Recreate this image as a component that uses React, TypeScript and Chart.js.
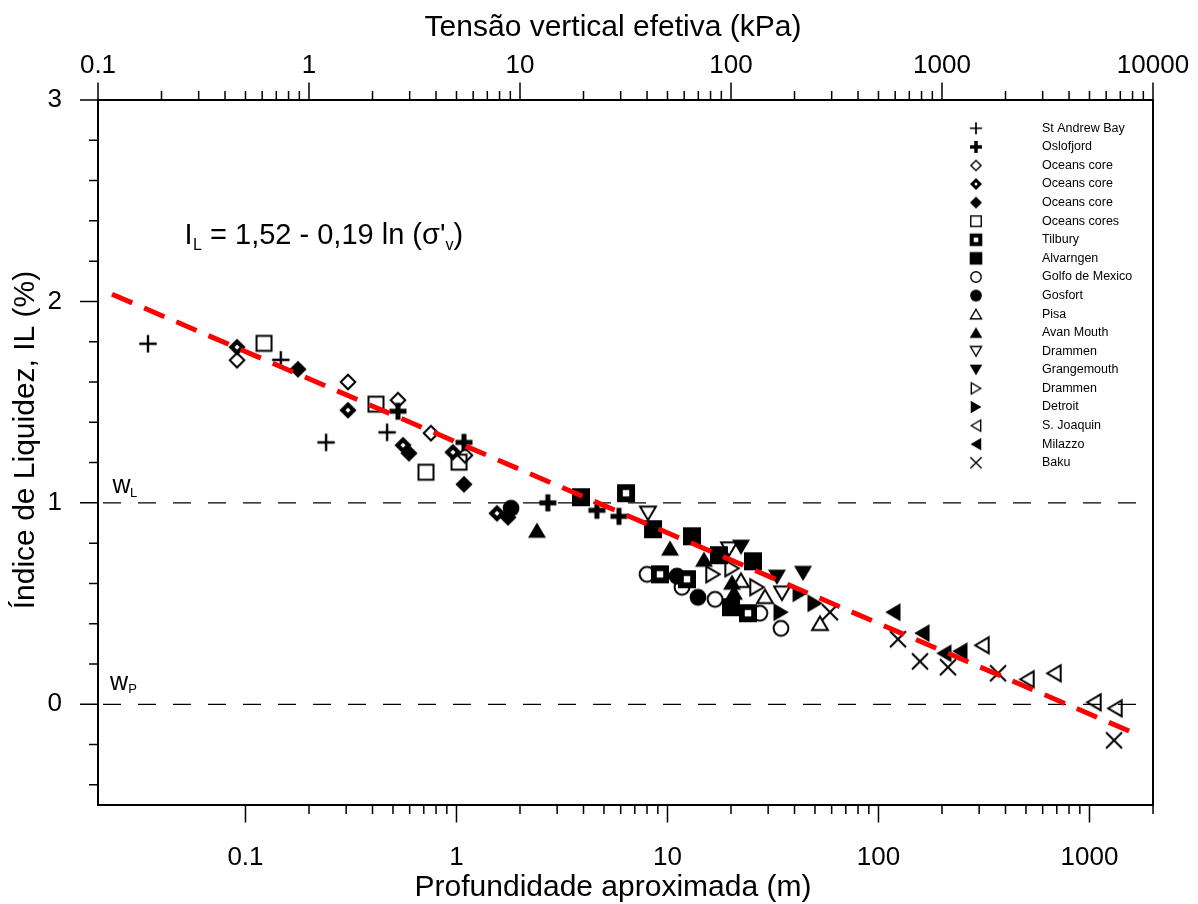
import React, { useEffect, useRef } from 'react';
import { Chart, registerables } from 'chart.js';

Chart.register(...registerables);

const FONT = '"Liberation Sans", Arial, Helvetica, sans-serif';

// ---------- axis ticks ----------
const depthMajorTicks = [0.1, 1, 10, 100, 1000];
const depthMinorTicks = [0.2, 0.3, 0.4, 0.5, 0.6, 0.7, 0.8, 0.9, 2, 3, 4, 5, 6, 7, 8, 9, 20, 30, 40, 50, 60, 70, 80, 90, 200, 300, 400, 500, 600, 700, 800, 900, 2000];
const stressMajorTicks = [0.1, 1, 10, 100, 1000, 10000];
const stressMinorTicks = [0.2, 0.3, 0.4, 0.5, 0.6, 0.7, 0.8, 0.9, 2, 3, 4, 5, 6, 7, 8, 9, 20, 30, 40, 50, 60, 70, 80, 90, 200, 300, 400, 500, 600, 700, 800, 900, 2000, 3000, 4000, 5000, 6000, 7000, 8000, 9000];
const ilMajorTicks = [0, 1, 2, 3];
const ilMinorTicks = [-0.4, -0.2, 0.2, 0.4, 0.6, 0.8, 1.2, 1.4, 1.6, 1.8, 2.2, 2.4, 2.6, 2.8];

// ---------- data (x = depth in m, y = liquidity index) ----------
const stAndrewX = [0.0345, 0.147, 0.241, 0.469];
const stAndrewY = [1.79, 1.71, 1.3, 1.35];
const oslofjordX = [0.528, 1.085, 2.71, 4.63, 5.89];
const oslofjordY = [1.455, 1.3, 1.0, 0.963, 0.933];
const oceansOpenX = [0.0912, 0.306, 0.528, 0.757, 1.097];
const oceansOpenY = [1.708, 1.6, 1.51, 1.346, 1.236];
const oceansDotX = [0.0912, 0.306, 0.558, 0.962, 1.556];
const oceansDotY = [1.773, 1.46, 1.286, 1.251, 0.948];
const oceansFilledX = [0.1773, 0.5955, 1.085, 1.754];
const oceansFilledY = [1.663, 1.246, 1.092, 0.928];
const oceansCoresX = [0.1224, 0.4154, 0.717, 1.028];
const oceansCoresY = [1.792, 1.49, 1.152, 1.202];
const tilburyX = [6.36, 9.21, 12.37, 24.07];
const tilburyY = [1.048, 0.645, 0.621, 0.452];
const alvarngenX = [3.89, 8.54, 13.06, 17.54, 25.42, 20.0];
const alvarngenY = [1.028, 0.869, 0.834, 0.74, 0.71, 0.482];
const golfoX = [8.0, 11.71, 16.8, 27.4, 34.5];
const golfoY = [0.645, 0.581, 0.521, 0.452, 0.377];
const gosfortX = [1.813, 11.09, 13.95];
const gosfortY = [0.973, 0.636, 0.531];
const pisaX = [22.3, 28.97, 52.8];
const pisaY = [0.616, 0.536, 0.402];
const avanX = [2.407, 10.28, 14.89, 20.22, 20.66];
const avanY = [0.864, 0.775, 0.72, 0.606, 0.556];
const drammenDownX = [8.08, 19.56, 34.88];
const drammenDownY = [0.948, 0.77, 0.551];
const grangemouthX = [22.3, 33.0, 43.9];
const grangemouthY = [0.78, 0.631, 0.65];
const drammenRightX = [16.43, 20.22, 26.56];
const drammenRightY = [0.645, 0.675, 0.581];
const detroitX = [34.5, 42.5, 50.0];
const detroitY = [0.457, 0.551, 0.501];
const sJoaquinX = [309.4, 505.5, 678.7, 1050, 1321];
const sJoaquinY = [0.293, 0.124, 0.154, 0.01, -0.02];
const milazzoX = [117.1, 160.8, 204.4, 243.4];
const milazzoY = [0.457, 0.353, 0.253, 0.263];
const bakuX = [58.9, 123.7, 157.3, 213.5, 368.5, 1307];
const bakuY = [0.457, 0.323, 0.213, 0.184, 0.154, -0.179];

// fitted trend line end points
const fitX = [0.0233, 1590];
const fitY = [2.036, -0.139];
// consistency limits
const limitX = [0.02, 2000];
const wLY = [1, 1];
const wPY = [0, 0];

const seriesLabels = ['St Andrew Bay', 'Oslofjord', 'Oceans core', 'Oceans core', 'Oceans core', 'Oceans cores', 'Tilbury', 'Alvarngen', 'Golfo de Mexico', 'Gosfort', 'Pisa', 'Avan Mouth', 'Drammen', 'Grangemouth', 'Drammen', 'Detroit', 'S. Joaquin', 'Milazzo', 'Baku'];
const seriesX = [stAndrewX, oslofjordX, oceansOpenX, oceansDotX, oceansFilledX, oceansCoresX, tilburyX, alvarngenX, golfoX, gosfortX, pisaX, avanX, drammenDownX, grangemouthX, drammenRightX, detroitX, sJoaquinX, milazzoX, bakuX];
const seriesY = [stAndrewY, oslofjordY, oceansOpenY, oceansDotY, oceansFilledY, oceansCoresY, tilburyY, alvarngenY, golfoY, gosfortY, pisaY, avanY, drammenDownY, grangemouthY, drammenRightY, detroitY, sJoaquinY, milazzoY, bakuY];
const markerKinds = ['plusThin', 'plusBold', 'diamondOpen', 'diamondDot', 'diamondFilled', 'squareOpen', 'squareHole', 'squareFilled', 'circleOpen', 'circleFilled', 'triUpOpen', 'triUpFilled', 'triDownOpen', 'triDownFilled', 'triRightOpen', 'triRightFilled', 'triLeftOpen', 'triLeftFilled', 'xCross'];

function makeMarker(kind: string, s: number): HTMLCanvasElement {
  const size = Math.round((26 * s) / 2) * 2;
  const c = document.createElement('canvas');
  c.width = size;
  c.height = size;
  const g = c.getContext('2d') as CanvasRenderingContext2D;
  g.translate(size / 2, size / 2);
  g.scale(s, s);
  g.fillStyle = '#000';
  g.strokeStyle = '#000';
  g.lineWidth = 2;
  g.lineJoin = 'miter';
  g.lineCap = 'butt';
  const poly = (pts: number[][]) => {
    g.beginPath();
    g.moveTo(pts[0][0], pts[0][1]);
    for (let i = 1; i < pts.length; i++) g.lineTo(pts[i][0], pts[i][1]);
    g.closePath();
  };
  const tri = (rot: number, filled: boolean) => {
    g.save();
    g.rotate(rot);
    if (filled) {
      poly([[0, -7.8], [9, 7.5], [-9, 7.5]]);
      g.fill();
    } else {
      poly([[0, -6.8], [7.9, 6.7], [-7.9, 6.7]]);
      g.stroke();
    }
    g.restore();
  };
  switch (kind) {
    case 'plusThin':
      g.lineWidth = 2.4;
      g.beginPath();
      g.moveTo(-8.7, 0); g.lineTo(8.7, 0);
      g.moveTo(0, -8.7); g.lineTo(0, 8.7);
      g.stroke();
      break;
    case 'plusBold':
      g.lineWidth = 5;
      g.beginPath();
      g.moveTo(-8.5, 0); g.lineTo(8.5, 0);
      g.moveTo(0, -8.5); g.lineTo(0, 8.5);
      g.stroke();
      break;
    case 'diamondOpen':
      poly([[0, -7.3], [7.3, 0], [0, 7.3], [-7.3, 0]]);
      g.stroke();
      break;
    case 'diamondDot':
      poly([[0, -8.6], [8.6, 0], [0, 8.6], [-8.6, 0]]);
      g.fill();
      g.fillStyle = '#fff';
      poly([[0, -2.6], [2.6, 0], [0, 2.6], [-2.6, 0]]);
      g.fill();
      break;
    case 'diamondFilled':
      poly([[0, -8.6], [8.6, 0], [0, 8.6], [-8.6, 0]]);
      g.fill();
      break;
    case 'squareOpen':
      g.strokeRect(-7.5, -7.5, 15, 15);
      break;
    case 'squareHole':
      g.fillRect(-9, -9, 18, 18);
      g.fillStyle = '#fff';
      g.fillRect(-3.2, -3.2, 6.4, 6.4);
      break;
    case 'squareFilled':
      g.fillRect(-9, -9, 18, 18);
      break;
    case 'circleOpen':
      g.beginPath();
      g.arc(0, 0, 7.4, 0, Math.PI * 2);
      g.stroke();
      break;
    case 'circleFilled':
      g.beginPath();
      g.arc(0, 0, 8.4, 0, Math.PI * 2);
      g.fill();
      break;
    case 'triUpOpen': tri(0, false); break;
    case 'triUpFilled': tri(0, true); break;
    case 'triDownOpen': tri(Math.PI, false); break;
    case 'triDownFilled': tri(Math.PI, true); break;
    case 'triRightOpen': tri(Math.PI / 2, false); break;
    case 'triRightFilled': tri(Math.PI / 2, true); break;
    case 'triLeftOpen': tri(-Math.PI / 2, false); break;
    case 'triLeftFilled': tri(-Math.PI / 2, true); break;
    case 'xCross':
      g.beginPath();
      g.moveTo(-8, -8); g.lineTo(8, 8);
      g.moveTo(-8, 8); g.lineTo(8, -8);
      g.stroke();
      break;
  }
  return c;
}

const NB = '\u00a0';

export default function App() {
  const canvasRef = useRef<HTMLCanvasElement | null>(null);

  useEffect(() => {
    const canvas = canvasRef.current;
    if (!canvas) return;
    Chart.defaults.color = '#000';

    const plotMarkers = markerKinds.map((k) => makeMarker(k, 1));
    const legendMarkers = markerKinds.map((k) => makeMarker(k, 0.7));

    const markerDatasets = seriesLabels.map((label, i) => ({
      label,
      data: seriesX[i].map((x, j) => ({ x, y: seriesY[i][j] })),
      pointStyle: plotMarkers[i],
      pointRadius: 9,
      pointHoverRadius: 9,
      showLine: false,
      xAxisID: 'x',
      yAxisID: 'y',
    }));

    const lineDs = (label: string, xs: number[], ys: number[], color: string, width: number, dash: number[], offset: number) => ({
      label,
      data: xs.map((x, j) => ({ x, y: ys[j] })),
      showLine: true,
      borderColor: color,
      borderWidth: width,
      borderDash: dash,
      borderDashOffset: offset,
      borderCapStyle: 'butt',
      pointRadius: 0,
      pointHoverRadius: 0,
      fill: false,
      tension: 0,
      xAxisID: 'x',
      yAxisID: 'y',
    });

    const datasets: any[] = [
      lineDs('fit', fitX, fitY, '#ff0000', 5, [22, 13], 0),
      ...markerDatasets,
      lineDs('wL', limitX, wLY, '#000', 1.2, [18, 17], 30),
      lineDs('wP', limitX, wPY, '#000', 1.2, [18, 17], 30),
    ];

    const decorPlugin = {
      id: 'decor',
      afterDraw(chart: any) {
        const ctx = chart.ctx as CanvasRenderingContext2D;
        const { left, right, top, bottom } = chart.chartArea;
        const sx = chart.scales.x;
        const sx2 = chart.scales.x2;
        const sy = chart.scales.y;
        ctx.save();
        ctx.strokeStyle = '#000';
        ctx.fillStyle = '#000';
        // ticks
        ctx.lineWidth = 1.5;
        ctx.beginPath();
        const tb = (vals: number[], len: number) => vals.forEach((v) => {
          const p = sx.getPixelForValue(v);
          ctx.moveTo(p, bottom); ctx.lineTo(p, bottom + len);
        });
        const tt = (vals: number[], len: number) => vals.forEach((v) => {
          const p = sx2.getPixelForValue(v);
          ctx.moveTo(p, top); ctx.lineTo(p, top - len);
        });
        const tl = (vals: number[], len: number) => vals.forEach((v) => {
          const p = sy.getPixelForValue(v);
          ctx.moveTo(left, p); ctx.lineTo(left - len, p);
        });
        tb(depthMajorTicks, 17.5); tb(depthMinorTicks, 9);
        tt(stressMajorTicks, 17.5); tt(stressMinorTicks, 9);
        tl(ilMajorTicks, 18); tl(ilMinorTicks, 9);
        ctx.stroke();
        // frame
        ctx.lineWidth = 2;
        ctx.strokeRect(left, top, right - left, bottom - top);

        // equation
        ctx.textBaseline = 'alphabetic';
        ctx.textAlign = 'left';
        let x = 184.5;
        const big = `29px ${FONT}`;
        const small = `16px ${FONT}`;
        ctx.font = big;
        ctx.fillText('I', x, 243.5);
        x += ctx.measureText('I').width;
        ctx.font = small;
        ctx.fillText('L', x + 0.5, 249.5);
        x += ctx.measureText('L').width + 0.5;
        ctx.font = big;
        const eq = " = 1,52 - 0,19 ln (\u03c3'";
        ctx.fillText(eq, x, 243.5);
        x += ctx.measureText(eq).width;
        ctx.font = small;
        ctx.fillText('v', x, 249.5);
        x += ctx.measureText('v').width;
        ctx.font = big;
        ctx.fillText(')', x, 243.5);

        // wL / wP
        ctx.font = `25px ${FONT}`;
        ctx.fillText('w', 112.5, 492.7);
        ctx.fillText('w', 110, 690);
        ctx.font = `13px ${FONT}`;
        ctx.fillText('L', 130, 497);
        ctx.fillText('P', 128.3, 693);

        // legend
        ctx.font = `12.5px ${FONT}`;
        ctx.textBaseline = 'middle';
        seriesLabels.forEach((label, i) => {
          const y = 128.3 + i * 18.58;
          const m = legendMarkers[i];
          ctx.drawImage(m, 976 - m.width / 2, y - m.height / 2);
          ctx.fillText(label, 1042, y);
        });
        ctx.restore();
      },
    };

    const tickFont = { family: FONT, size: 26, lineHeight: 1 };
    const titleFont = { family: FONT, size: 30, lineHeight: 1 };
    const fitH = (h: number) => (s: any) => { s.height = h; s.paddingLeft = 0; s.paddingRight = 0; };

    const chart = new Chart(canvas, {
      type: 'scatter',
      data: { datasets },
      options: {
        animation: false,
        responsive: false,
        devicePixelRatio: 1,
        events: [],
        layout: { padding: { left: 0, top: 0, right: 45, bottom: 0 } },
        plugins: { legend: { display: false }, tooltip: { enabled: false } },
        scales: {
          x: {
            type: 'logarithmic',
            position: 'bottom',
            min: 0.02,
            max: 2000,
            afterBuildTicks: (s: any) => {
              s.ticks = [...depthMajorTicks, ...depthMinorTicks].sort((a, b) => a - b).map((v) => ({ value: v }));
            },
            afterFit: fitH(99),
            grid: { display: false, drawTicks: false },
            border: { display: false },
            ticks: {
              autoSkip: false,
              maxRotation: 0,
              minRotation: 0,
              padding: 40,
              color: '#000',
              font: tickFont,
              callback: (v: any) => (depthMajorTicks.includes(Number(v)) ? String(v) : ''),
            },
            title: {
              display: true,
              text: 'Profundidade aproximada (m)' + NB + NB + NB,
              color: '#000',
              font: titleFont,
              padding: { top: 0, bottom: 1 },
            },
          },
          x2: {
            type: 'logarithmic',
            axis: 'x',
            position: 'top',
            min: 0.1,
            max: 10000,
            afterBuildTicks: (s: any) => {
              s.ticks = [...stressMajorTicks, ...stressMinorTicks].sort((a, b) => a - b).map((v) => ({ value: v }));
            },
            afterFit: fitH(100),
            grid: { display: false, drawTicks: false },
            border: { display: false },
            ticks: {
              autoSkip: false,
              maxRotation: 0,
              minRotation: 0,
              padding: 21,
              color: '#000',
              font: tickFont,
              callback: (v: any) => (stressMajorTicks.includes(Number(v)) ? String(v) : ''),
            },
            title: {
              display: true,
              text: 'Tensão vertical efetiva (kPa)' + NB + NB + NB,
              color: '#000',
              font: titleFont,
              padding: { top: 13, bottom: 0 },
            },
          },
          y: {
            type: 'linear',
            position: 'left',
            min: -0.5,
            max: 3,
            afterBuildTicks: (s: any) => {
              s.ticks = [...ilMajorTicks, ...ilMinorTicks].sort((a, b) => a - b).map((v) => ({ value: v }));
            },
            afterFit: (s: any) => { s.width = 98; s.paddingTop = 0; s.paddingBottom = 0; },
            grid: { display: false, drawTicks: false },
            border: { display: false },
            ticks: {
              autoSkip: false,
              padding: 36,
              color: '#000',
              font: tickFont,
              callback: (v: any) => (ilMajorTicks.includes(Number(v)) ? String(v) : ''),
            },
            title: {
              display: true,
              text: NB + NB + NB + 'Índice de Liquidez, IL (%)',
              color: '#000',
              font: titleFont,
              padding: { top: 11, bottom: 0 },
            },
          },
        },
      },
      plugins: [decorPlugin],
    } as any);

    return () => chart.destroy();
  }, []);

  return (
    <div style={{ position: 'absolute', left: 0, top: 0, width: 1198, height: 904, background: '#fff' }}>
      <canvas ref={canvasRef} width={1198} height={904} style={{ display: 'block', width: 1198, height: 904 }} />
    </div>
  );
}
